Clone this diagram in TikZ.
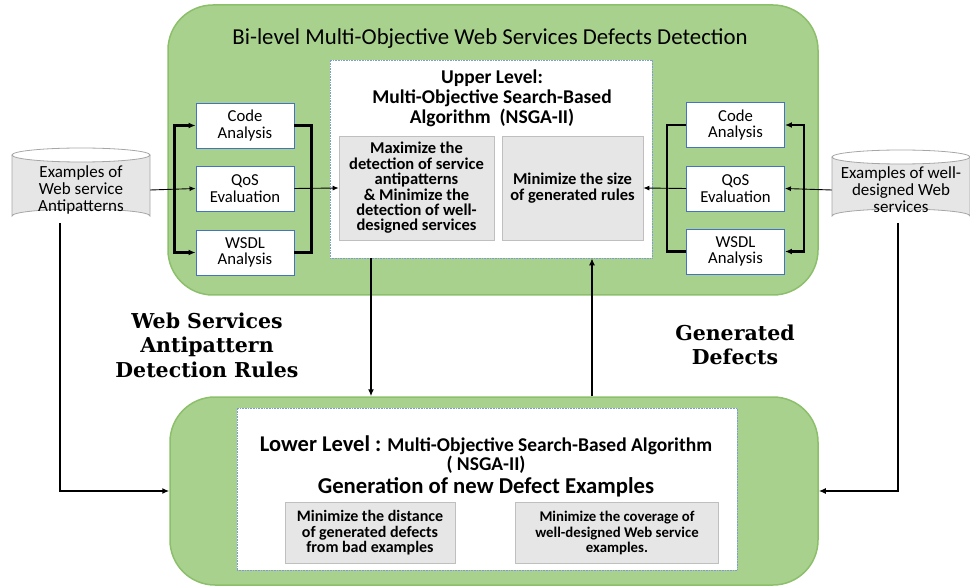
\documentclass[tikz,border=0pt]{standalone}
\usepackage{fontspec}
\setmainfont{Carlito}
\newfontfamily\labfont{DejaVu Serif}
\usetikzlibrary{arrows.meta,calc}
\definecolor{grn}{HTML}{A9D18E}
\definecolor{grnb}{HTML}{8CBF6A}
\definecolor{gbox}{HTML}{E7E6E6}
\definecolor{gboxb}{HTML}{BFBFBF}
\definecolor{blu}{HTML}{4472C4}
\tikzset{
  panel/.style={fill=grn,draw=grnb,line width=1.5pt,rounded corners=45pt},
  whitebox/.style={draw=blu!70,densely dotted,line width=0.6pt,fill=white},
  greybox/.style={fill=gbox,draw=gboxb,line width=0.8pt,align=center,font=\fontsize{16.5}{15.4}\selectfont\bfseries},
  toolbox/.style={fill=white,draw=blu,line width=0.9pt,minimum width=98pt,minimum height=45pt,align=center,font=\fontsize{16.7}{16.3}\selectfont},
  cyltext/.style={align=center,font=\fontsize{17}{17}\selectfont},
  conn/.style={line width=0.9pt,-{Latex[length=6pt,width=5pt]}},
  bracket/.style={line width=2.2pt},
  bigarrow/.style={line width=1.4pt,-{Latex[length=7pt,width=6pt]}},
  lab/.style={align=center,font=\labfont\fontsize{20.5}{24.5}\selectfont\bfseries},
}
\begin{document}
\begin{tikzpicture}[x=1pt,y=-1pt]
\useasboundingbox (0,0) rectangle (970,588);
% top panel
\node[panel,minimum width=650pt,minimum height=290pt,inner sep=0pt] (top) at (493,150) {};
\node[font=\fontsize{22.8}{24}\selectfont] (title) at (490,39) {Bi-level Multi-Objective Web Services Defects Detection};
\node[whitebox,minimum width=322pt,minimum height=198pt,inner sep=0pt] (upper) at (491,159) {};
\node[align=center,font=\fontsize{19.5}{20}\selectfont\bfseries] (uhead) at (492,98) {Upper Level:\\Multi-Objective Search-Based\\Algorithm\ \ (NSGA-II)};
\node[greybox,minimum width=155pt,minimum height=104pt,inner sep=0pt] (g1) at (416.5,188) {Maximize the\\detection of service\\antipatterns\\\&\ Minimize the\\detection of well-\\designed services};
\node[greybox,minimum width=141pt,minimum height=104pt,inner sep=0pt] (g2) at (572.5,188) {Minimize the size\\of generated rules};
% left tool boxes
\node[toolbox] (codeL) at (245,125.5) {Code\\Analysis};
\node[toolbox] (qosL) at (245,188.5) {QoS\\Evaluation};
\node[toolbox] (wsdlL) at (245,252.5) {WSDL\\Analysis};
% right tool boxes
\node[toolbox] (codeR) at (735.5,125) {Code\\Analysis};
\node[toolbox] (qosR) at (735.5,188.5) {QoS\\Evaluation};
\node[toolbox] (wsdlR) at (735.5,251.5) {WSDL\\Analysis};
% cylinders
\newcommand{\drawcyl}[4]{% cx, top, width, height
  \pgfmathsetmacro{\rx}{#3/2}
  \fill[gbox] (#1-\rx,#2+7) -- (#1-\rx,#2+#4-7) arc[start angle=180,end angle=360,x radius=\rx,y radius=7] -- (#1+\rx,#2+7) arc[start angle=0,end angle=180,x radius=\rx,y radius=7] -- cycle;
  \draw[gray!70,line width=0.8pt] (#1-\rx,#2+7) -- (#1-\rx,#2+#4-7) arc[start angle=180,end angle=360,x radius=\rx,y radius=7] -- (#1+\rx,#2+7);
  \draw[gray!70,line width=0.8pt] (#1,#2+7) ellipse[x radius=\rx,y radius=7];
}
\drawcyl{81}{148}{138}{75}
\drawcyl{901}{150}{138}{73}
\node[cyltext,minimum width=138pt] (cylL) at (81,190) {Examples of\\Web service\\Antipatterns};
\node[cyltext,minimum width=138pt] (cylR) at (901,190) {Examples of well-\\designed Web\\services};
\coordinate (cylLb) at (60,223);
\coordinate (cylRb) at (898,223);
% lower panel
\node[panel,minimum width=648pt,minimum height=188pt,inner sep=0pt] (low) at (494,491) {};
\node[whitebox,minimum width=500pt,minimum height=162pt,inner sep=0pt] (lower) at (487,489) {};
\node[font=\fontsize{19.5}{20}\selectfont\bfseries] (lh1) at (486,445) {{\fontsize{22.5}{20}\selectfont Lower Level :} Multi-Objective Search-Based Algorithm};
\node[font=\fontsize{19.5}{20}\selectfont\bfseries] (lh2) at (486,465) {( NSGA-II)};
\node[font=\fontsize{22.7}{24}\selectfont\bfseries] (lh3) at (486,487) {Generation of new Defect Examples};
\node[greybox,minimum width=170pt,minimum height=61pt,inner sep=0pt,font=\fontsize{16}{15.5}\selectfont\bfseries] (g3) at (370,533) {Minimize the distance\\of generated defects\\from bad examples};
\node[greybox,minimum width=203pt,minimum height=61pt,inner sep=0pt,font=\fontsize{14.8}{15.5}\selectfont\bfseries] (g4) at (617,533) {Minimize the coverage of\\well-designed Web service\\examples.};
% labels
\node[lab] (labL) at (207,345) {Web Services\\Antipattern\\Detection Rules};
\node[lab] (labR) at (735,345) {Generated\\Defects};
% connectors
\draw[conn] (cylL.east) -- (qosL.west);
\draw[conn] (qosL.east) -- (g1.west);
\draw[bracket,{Latex[length=7pt,width=6pt]}-{Latex[length=7pt,width=6pt]}] (codeL.west) -- ++(-21,0) |- (wsdlL.west);
\draw[bracket] (codeL.east) -- ++(17,0) |- (wsdlL.east);
\draw[conn] (cylR.west) -- (qosR.east);
\draw[conn] (qosR.west) -- (g2.east);
\draw[bracket,{Latex[length=7pt,width=6pt]}-{Latex[length=7pt,width=6pt]}] (codeR.east) -- ++(19,0) |- (wsdlR.east);
\draw[bracket] (codeR.west) -- ++(-19,0) |- (wsdlR.west);
\draw[bigarrow] (cylLb) |- (low.west);
\draw[bigarrow] (cylRb) |- (low.east);
\draw[bigarrow] ([xshift=-120pt]upper.south) -- ([xshift=-120pt]upper.south |- low.north);
\draw[bigarrow] ([xshift=101pt]upper.south |- low.north) -- ([xshift=101pt]upper.south);
\end{tikzpicture}
\end{document}
